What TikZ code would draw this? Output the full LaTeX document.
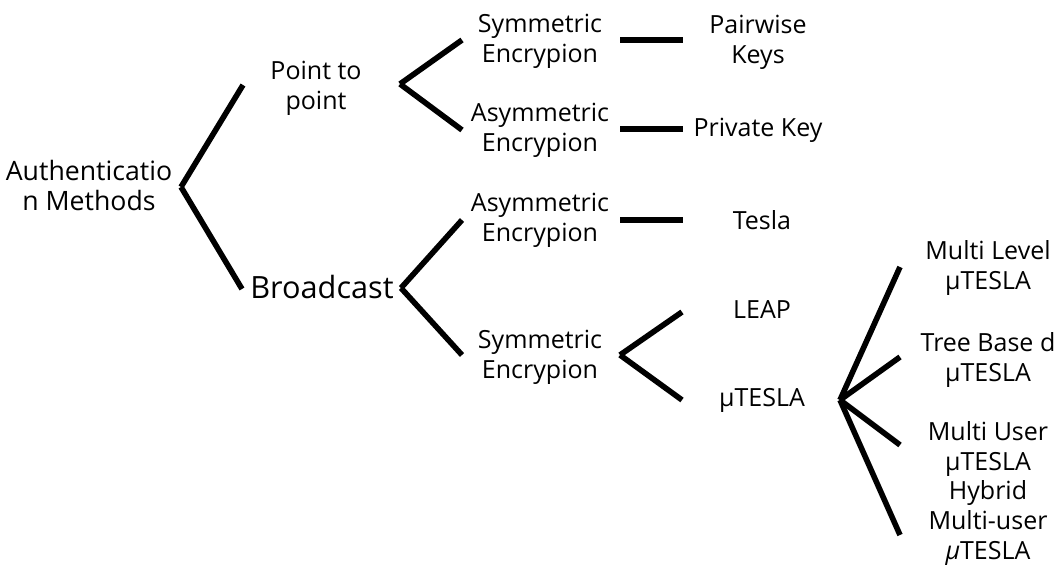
\documentclass[tikz,border=0pt]{standalone}
\usepackage{fontspec}
\setmainfont{Open Sans}

\begin{document}
\begin{tikzpicture}[x=0.75pt,y=-0.75pt,
    label/.style={align=center,inner sep=0pt,font=\fontsize{18.75}{22.5}\selectfont},
    branch/.style={line width=4.2pt}]

\useasboundingbox (0,0) rectangle (1054,580);

% text of the tree
\node[label,font=\fontsize{20}{22.5}\selectfont] (auth) at (89,186) {Authenticatio\\n Methods};
\node[label] (ptp)   at (316,88)  {Point to\\point};
\node[label,font=\fontsize{23}{26}\selectfont] (bcast) at (322,287) {Broadcast};

\node[label] (sym1)  at (540,41)  {Symmetric\\Encrypion};
\node[label] (asym1) at (540,130) {Asymmetric\\Encrypion};
\node[label] (asym2) at (540,220) {Asymmetric\\Encrypion};
\node[label] (sym2)  at (540,357) {Symmetric\\Encrypion};

\node[label] (pair)  at (758,42)  {Pairwise\\Keys};
\node[label] (priv)  at (758,130) {Private Key};
\node[label] (tesla) at (762,220) {Tesla};
\node[label] (leap)  at (762,310) {LEAP};
\node[label] (mu)    at (762,400) {µTESLA};

\node[label] (ml)    at (988,268) {Multi Level\\µTESLA};
\node[label] (tb)    at (988,360) {Tree Base d\\µTESLA};
\node[label] (mul)   at (988,449) {Multi User\\µTESLA};
\node[label] (hyb)   at (988,523) {Hybrid\\Multi-user\\\textit{μ}TESLA};

% where the branches start and end
\coordinate (auth-out)  at (181,187);
\coordinate (ptp-out)   at (400,84);
\coordinate (bcast-out) at (401,288);
\coordinate (sym1-out)  at (620,40);
\coordinate (asym1-out) at (620,129);
\coordinate (asym2-out) at (620,220);
\coordinate (sym2-out)  at (620,355);
\coordinate (mu-out)    at (840,400);

\coordinate (ptp-in)   at (243,85);
\coordinate (bcast-in) at (242,289);
\coordinate (sym1-in)  at (462,40);
\coordinate (asym1-in) at (462,130);
\coordinate (asym2-in) at (462,220);
\coordinate (sym2-in)  at (462,355);
\coordinate (pair-in)  at (683,40);
\coordinate (priv-in)  at (683,129);
\coordinate (tesla-in) at (683,220);
\coordinate (leap-in)  at (682,312);
\coordinate (mu-in)    at (682,400);
\coordinate (ml-in)    at (900,267);
\coordinate (tb-in)    at (900,357);
\coordinate (mul-in)   at (900,445);
\coordinate (hyb-in)   at (900,535);

\foreach \a/\b in {auth/ptp, auth/bcast, ptp/sym1, ptp/asym1,
                   bcast/asym2, bcast/sym2, sym1/pair, asym1/priv,
                   asym2/tesla, sym2/leap, sym2/mu,
                   mu/ml, mu/tb, mu/mul, mu/hyb}
  \draw[branch] (\a-out) -- (\b-in);

\end{tikzpicture}
\end{document}
